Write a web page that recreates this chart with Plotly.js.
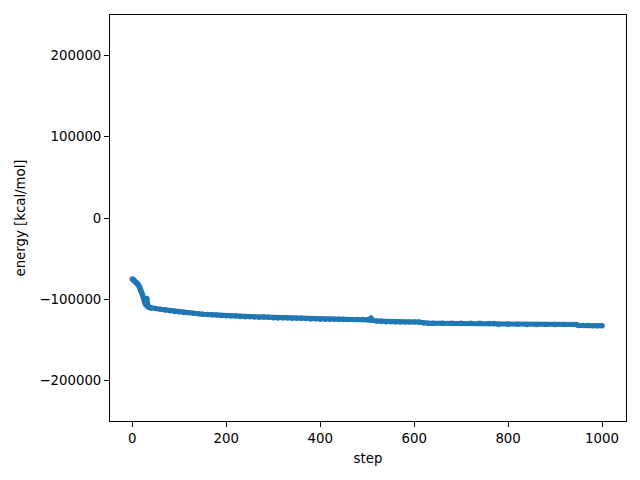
<!DOCTYPE html>
<html>
<head>
<meta charset="utf-8">
<script src="https://cdn.plot.ly/plotly-3.0.1.min.js"></script>
<style>html,body{margin:0;padding:0;background:#fff;}#chart{width:640px;height:480px;}</style>
</head>
<body>
<div id="chart"></div>
<script>
const steps = [0,2,4,6,8,10,12,14,16,18,20,22,24,26,28,30,31,32,34,36,38,40,
  50,60,70,80,90,100,110,120,130,140,150,160,170,180,190,200,210,220,230,240,250,260,270,280,290,
  300,310,320,330,340,350,360,370,380,390,400,410,420,430,440,450,460,470,480,490,500,505,508,511,
  520,530,540,550,560,570,580,590,600,610,620,630,640,660,680,700,720,740,760,770,780,800,820,840,
  860,880,900,920,940,945,950,960,970,980,990,1000];
const energy = [-75100,-76000,-77000,-78400,-79500,-80500,-81800,-83500,-86000,-88700,-91800,-94800,-99000,-103000,-106300,-107200,-99000,-108800,-109500,-110000,-110400,-110700,
  -111600,-112500,-113300,-114200,-115000,-115700,-116300,-116800,-117200,-117800,-118400,-118800,-119200,-119600,-120000,-120400,-120600,-120800,-121300,-121500,-121700,-121800,-121900,-122000,-122100,
  -122800,-123100,-123200,-123300,-123400,-123500,-123600,-123700,-124400,-124500,-124600,-124600,-124700,-124700,-124800,-124800,-124900,-124900,-125000,-125100,-125300,-125500,-123600,-126000,
  -127000,-127300,-127700,-127900,-128000,-128000,-128100,-128100,-128200,-128200,-129400,-129500,-129500,-129600,-129600,-129700,-129700,-129700,-129800,-129800,-130900,-131000,-131000,-131100,
  -131100,-131100,-131200,-131200,-131200,-131300,-132400,-132500,-132500,-132600,-132600,-132700];
const yTickVals = [-200000,-100000,0,100000,200000];
const yTickText = ['\u2212200000','\u2212100000','0','100000','200000'];
const xTickVals = [0,200,400,600,800,1000];
const xTickText = ['0','200','400','600','800','1000'];

const font = {family: 'DejaVu Sans', size: 13.3, color: '#000'};
const trace = {
  x: steps, y: energy, type: 'scatter', mode: 'lines+markers',
  line: {color: '#1f77b4', width: 5},
  marker: {color: '#1f77b4', size: 5.5},
  hoverinfo: 'none'
};
const layout = {
  width: 640, height: 480,
  margin: {l: 110, r: 14, t: 15, b: 59, pad: 0},
  paper_bgcolor: '#fff', plot_bgcolor: '#fff',
  font: font,
  showlegend: false,
  xaxis: {
    range: [-47.5, 1051], tickvals: xTickVals, ticktext: xTickText,
    ticks: 'outside', ticklen: 5, tickwidth: 1, tickcolor: '#000',
    showgrid: false, zeroline: false, showline: true, linecolor: '#000', linewidth: 1, mirror: true,
    tickfont: font,
    title: {text: 'step', font: font, standoff: 8}
  },
  yaxis: {
    range: [-250000, 250000], tickvals: yTickVals, ticktext: yTickText,
    ticks: 'outside', ticklen: 5, tickwidth: 1, tickcolor: '#000',
    showgrid: false, zeroline: false, showline: true, linecolor: '#000', linewidth: 1, mirror: true,
    tickfont: font,
    title: {text: 'energy [kcal/mol]', font: font, standoff: 10}
  }
};
Plotly.newPlot('chart', [trace], layout, {staticPlot: true, displayModeBar: false});
</script>
</body>
</html>
